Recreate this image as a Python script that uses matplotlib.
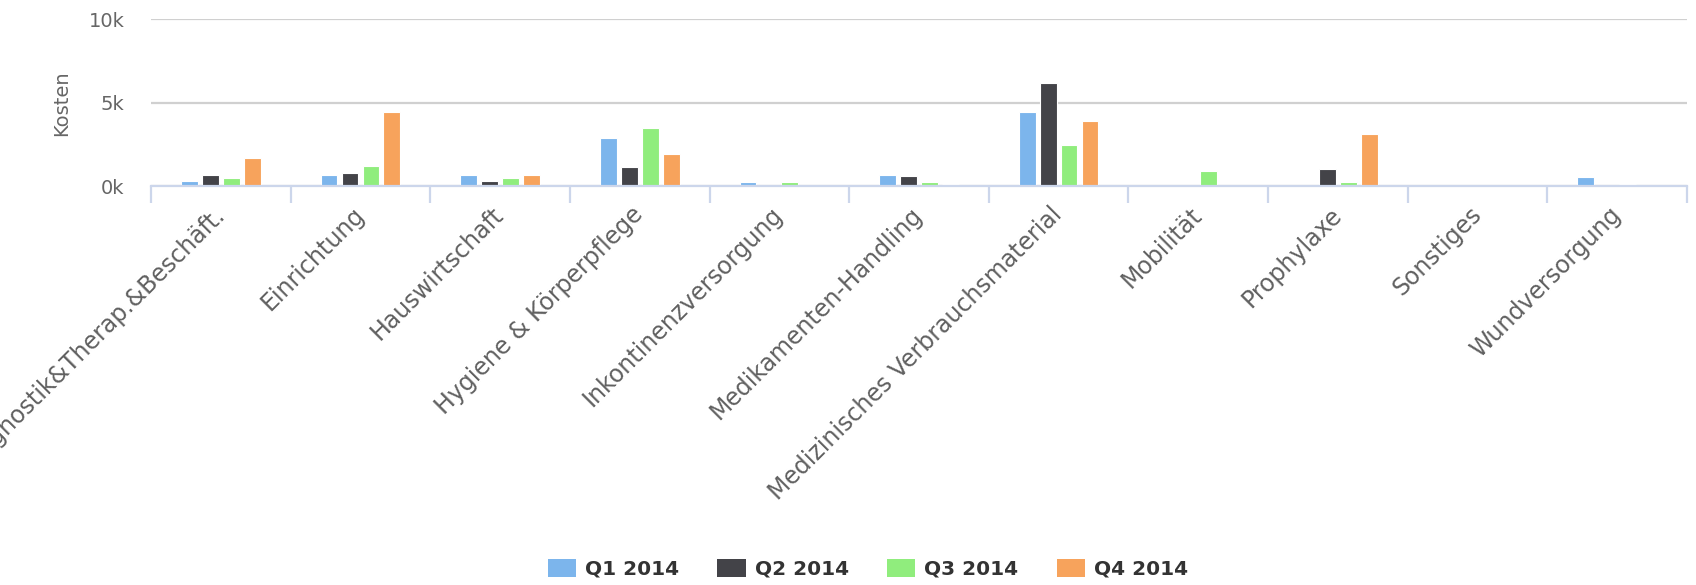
import matplotlib
matplotlib.use("Agg")
import matplotlib.pyplot as plt
import numpy as np

categories = ["Diagnostik&Therap.&Beschäft.", "Einrichtung", "Hauswirtschaft",
              "Hygiene & Körperpflege", "Inkontinenzversorgung", "Medikamenten-Handling",
              "Medizinisches Verbrauchsmaterial", "Mobilität", "Prophylaxe",
              "Sonstiges", "Wundversorgung"]
series_names = ["Q1 2014", "Q2 2014", "Q3 2014", "Q4 2014"]
q1 = [320, 670, 670, 2900, 220, 670, 4420, 0, 0, 0, 550]
q2 = [670, 770, 320, 1120, 0, 570, 6200, 0, 1000, 0, 0]
q3 = [450, 1220, 450, 3450, 220, 220, 2430, 870, 220, 0, 120]
q4 = [1660, 4420, 670, 1890, 0, 120, 3870, 0, 3100, 0, 0]
series_values = [q1, q2, q3, q4]
colors = ["#7cb5ec", "#434348", "#90ed7d", "#f7a35c"]
y_ticks = [0, 5000, 10000]
y_ticklabels = ["0k", "5k", "10k"]

W, H = 1696, 585
fig = plt.figure(figsize=(W / 100, H / 100), dpi=100)
ax = fig.add_axes([151 / W, 1 - 186 / H, (1687 - 151) / W, (186 - 19.3) / H])

n = len(categories)
x = np.arange(n)
group_pad = 0.2
slot = (1 - 2 * group_pad) / len(series_names)
bar_w = slot * 0.8
for k, (name, vals, c) in enumerate(zip(series_names, series_values, colors)):
    pos = x - 0.5 + group_pad + slot * (k + 0.5)
    ax.bar(pos, vals, width=bar_w, color=c, edgecolor="white", linewidth=0.8,
           label=name, zorder=3)

ax.set_xlim(-0.5, n - 0.5)
ax.set_ylim(0, 10000)

ax.set_yticks(y_ticks)
ax.set_yticklabels(y_ticklabels)
ax.yaxis.grid(True, color="#d0d0d0", linewidth=1.6, zorder=0)
ax.tick_params(axis="y", length=0, pad=19, labelsize=14, labelcolor="#666666")

for s in ["top", "right", "left"]:
    ax.spines[s].set_visible(False)
ax.spines["bottom"].set_color("#ccd6eb")
ax.spines["bottom"].set_linewidth(1.6)
ax.spines["bottom"].set_zorder(4)

ax.set_xticks(x)
ax.set_xticklabels(categories)
ax.set_xticks(np.arange(n + 1) - 0.5, minor=True)
ax.tick_params(axis="x", which="major", length=0, pad=18, labelsize=17,
               labelcolor="#606060")
ax.tick_params(axis="x", which="minor", length=12, width=1.6, color="#ccd6eb")
for lbl in ax.get_xticklabels():
    lbl.set_rotation(45)
    lbl.set_ha("right")
    lbl.set_va("center")
    lbl.set_rotation_mode("anchor")

fig.text(62 / W, 1 - 103 / H, "Kosten", rotation=90, ha="center", va="center",
         fontsize=14, color="#666666")

leg = fig.legend(loc="center", bbox_to_anchor=(868 / W, 1 - 569 / H), ncol=4,
                 frameon=False, prop={"weight": "bold", "size": 14.5},
                 handlelength=1.4, handleheight=1.0, handletextpad=0.45,
                 columnspacing=1.9)
for t in leg.get_texts():
    t.set_color("#333333")
for p in leg.get_patches():
    p.set_edgecolor("none")

fig.savefig("out.png", dpi=100)
